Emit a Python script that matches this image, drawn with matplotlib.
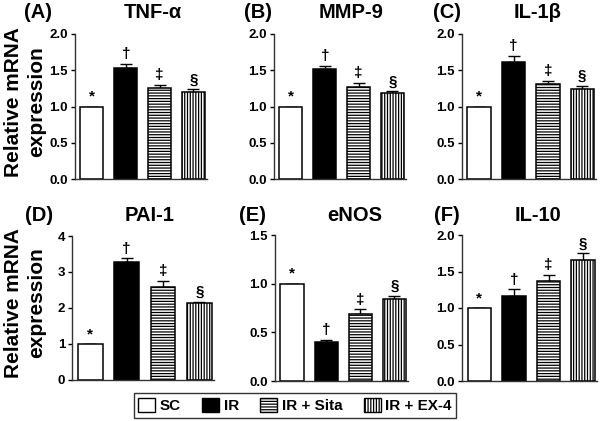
import matplotlib
matplotlib.use("Agg")
import matplotlib.pyplot as plt
from matplotlib.patches import Patch

plt.rcParams['font.family'] = ['Liberation Sans', 'DejaVu Sans']
plt.rcParams['font.weight'] = 'bold'
plt.rcParams['hatch.linewidth'] = 0.9

groups = ["SC", "IR", "IR + Sita", "IR + EX-4"]
symbols = ["*", "\u2020", "\u2021", "\u00a7"]

panel_letters = ["(A)", "(B)", "(C)", "(D)", "(E)", "(F)"]
panel_titles = ["TNF-\u03b1", "MMP-9", "IL-1\u03b2", "PAI-1", "eNOS", "IL-10"]

tnf_mean = [1.00, 1.53, 1.26, 1.20]
tnf_err = [0.00, 0.06, 0.04, 0.04]
mmp9_mean = [1.00, 1.52, 1.27, 1.19]
mmp9_err = [0.00, 0.035, 0.055, 0.02]
il1b_mean = [1.00, 1.62, 1.31, 1.24]
il1b_err = [0.00, 0.08, 0.04, 0.045]
pai1_mean = [1.00, 3.28, 2.59, 2.13]
pai1_err = [0.00, 0.10, 0.17, 0.04]
enos_mean = [1.00, 0.40, 0.685, 0.845]
enos_err = [0.00, 0.025, 0.05, 0.03]
il10_mean = [1.00, 1.17, 1.37, 1.66]
il10_err = [0.00, 0.085, 0.08, 0.09]

means = [tnf_mean, mmp9_mean, il1b_mean, pai1_mean, enos_mean, il10_mean]
errs = [tnf_err, mmp9_err, il1b_err, pai1_err, enos_err, il10_err]

yticks_list = [
    [0.0, 0.5, 1.0, 1.5, 2.0],
    [0.0, 0.5, 1.0, 1.5, 2.0],
    [0.0, 0.5, 1.0, 1.5, 2.0],
    [0, 1, 2, 3, 4],
    [0.0, 0.5, 1.0, 1.5],
    [0.0, 0.5, 1.0, 1.5, 2.0],
]
ytick_fmt = ["%.1f", "%.1f", "%.1f", "%d", "%.1f", "%.1f"]

facecolors = ["white", "black", "white", "white"]
hatches = [None, None, "------", "||||||"]

W, H = 600, 421
fig = plt.figure(figsize=(W / 100, H / 100), dpi=100)

# axes rectangles in pixels: left, top, right, bottom
rects = [
    (75, 34, 207, 179),
    (274, 34, 406, 179),
    (462, 34, 596, 179),
    (72, 236, 214, 380),
    (275, 235, 408, 381),
    (462, 235, 597, 381),
]
letter_pos = [(38, 13), (258, 13), (447, 13), (39, 215), (253, 215), (447, 215)]
title_pos = [(153, 13), (351, 13), (538, 13), (150, 215), (355, 215), (538, 215)]

x = list(range(len(groups)))
for i, (l, t, r, b) in enumerate(rects):
    ax = fig.add_axes([l / W, 1 - b / H, (r - l) / W, (b - t) / H])
    m = means[i]
    e = errs[i]
    bars = ax.bar(x, m, width=0.68, color=facecolors, edgecolor="black",
                  linewidth=1.1, zorder=2)
    for bar, h in zip(bars, hatches):
        if h:
            bar.set_hatch(h)
    ax.errorbar(x, m, yerr=[[0] * 4, e], fmt="none", ecolor="black",
                elinewidth=1.0, capsize=4.5, capthick=1.0, zorder=1)
    for xi, mi, ei, s in zip(x, m, e, symbols):
        ax.annotate(s, (xi, mi + ei), xytext=(0, 2), textcoords="offset points",
                    ha="center", va="bottom", fontsize=11, fontweight="bold")
    yt = yticks_list[i]
    ax.set_ylim(0, yt[-1])
    ax.set_xlim(-0.5, 3.4)
    ax.set_yticks(yt)
    ax.set_yticklabels([ytick_fmt[i] % v for v in yt], fontsize=9.5, fontweight="bold")
    ax.set_xticks([])
    for sp in ["top", "right"]:
        ax.spines[sp].set_visible(False)
    for sp in ["left", "bottom"]:
        ax.spines[sp].set_color("#333333")
        ax.spines[sp].set_linewidth(1.0)
    ax.tick_params(axis="y", length=3, width=1.0, pad=2, colors="black")
    ax.spines["left"].set_zorder(3)
    fig.text(letter_pos[i][0] / W, 1 - letter_pos[i][1] / H, panel_letters[i],
             ha="center", va="center", fontsize=14.5, fontweight="bold")
    fig.text(title_pos[i][0] / W, 1 - title_pos[i][1] / H, panel_titles[i],
             ha="center", va="center", fontsize=14.5, fontweight="bold")

for yc in (102, 303):
    fig.text(25 / W, 1 - yc / H, "Relative mRNA\nexpression", rotation=90,
             ha="center", va="center", multialignment="center",
             fontsize=15, fontweight="bold", linespacing=1.3)

handles = [Patch(facecolor=fc, edgecolor="black", hatch=h, linewidth=1.0)
           for fc, h in zip(facecolors, hatches)]
leg = fig.legend(handles, groups, loc="center", ncol=4,
                 bbox_to_anchor=(295 / W, 1 - 405.5 / H),
                 fontsize=11, frameon=True, fancybox=False,
                 handlelength=1.1, handleheight=1.1, handletextpad=0.3,
                 columnspacing=1.4, borderpad=0.3, borderaxespad=0)
leg.get_frame().set_edgecolor("black")
leg.get_frame().set_linewidth(1.0)
for txt in leg.get_texts():
    txt.set_fontweight("bold")

fig.savefig("out.png", dpi=100)
